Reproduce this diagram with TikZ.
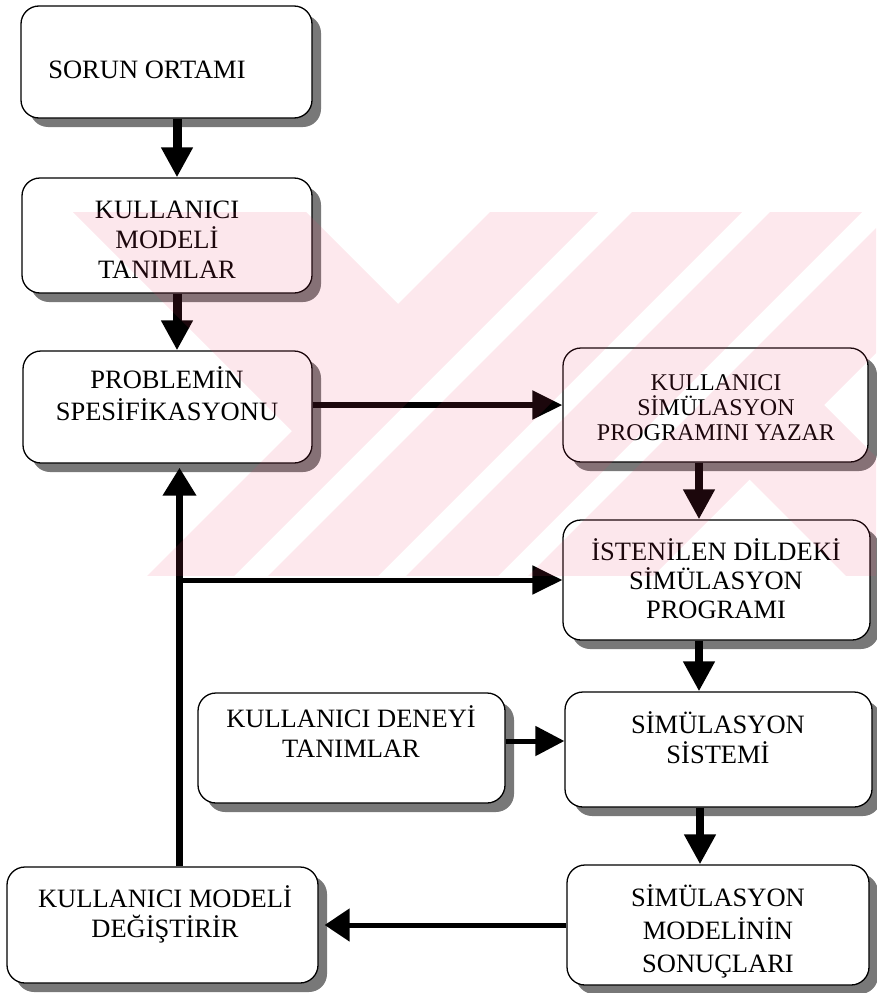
\documentclass[tikz,border=0pt]{standalone}
\usepackage{fontspec}
\setmainfont{Liberation Serif}
\usetikzlibrary{arrows.meta,shadows}
\definecolor{shadowgray}{RGB}{120,120,120}
\definecolor{wmark}{RGB}{238,63,105}
% invisible rule that fixes the height of the first text line
\newcommand{\firstline}{\rule{0pt}{24pt}}

\begin{document}
\begin{tikzpicture}[x=1pt,y=-1pt,
  box/.style={draw=black, line width=1.3pt, rounded corners=18pt, fill=white,
    inner sep=0pt,
    drop shadow={shadow xshift=9pt, shadow yshift=-9pt, fill=shadowgray, opacity=1}},
  boxtext/.style={inner sep=0pt, align=center, anchor=north},
  big/.style={font=\fontsize{26.5}{#1}\selectfont},
  small/.style={font=\fontsize{24}{25}\selectfont},
  flow/.style={draw=black, line width=#1},
  downtip/.style={-{Triangle[length=30pt,width=30pt]}},
  righttip/.style={-{Triangle[length=30pt,width=28pt]}},
]
\useasboundingbox (0,0) rectangle (876,993);

% ---- boxes ----
\node[box, minimum width=291pt, minimum height=112pt] (b1) at (166.5,62) {};
\node[box, minimum width=290pt, minimum height=115pt] (b2) at (167,235.5) {};
\node[box, minimum width=289pt, minimum height=112pt] (b3) at (167.5,407) {};
\node[box, minimum width=305pt, minimum height=114pt] (b4) at (715.5,405) {};
\node[box, minimum width=307pt, minimum height=120pt] (b5) at (716.5,580) {};
\node[box, minimum width=307pt, minimum height=115pt] (b6) at (718.5,749.5) {};
\node[box, minimum width=302pt, minimum height=120pt] (b7) at (718,925) {};
\node[box, minimum width=311pt, minimum height=116pt] (b8) at (162.5,925) {};
\node[box, minimum width=307pt, minimum height=110pt] (b9) at (351.5,748) {};

% ---- box texts ----
\node[boxtext, big=30] (t1) at (147,54) {\firstline SORUN ORTAMI};
\node[boxtext, big=30] (t2) at (167,194) {\firstline KULLANICI\\MODELİ\\TANIMLAR};
\node[boxtext, big=32] (t3) at (167,364) {\firstline PROBLEMİN\\SPESİFİKASYONU};
\node[boxtext, small] (t4) at (716,366) {\firstline KULLANICI\\SİMÜLASYON\\PROGRAMINI YAZAR};
\node[boxtext, big=29] (t5) at (716,536) {\firstline İSTENİLEN DİLDEKİ\\SİMÜLASYON\\PROGRAMI};
\node[boxtext, big=30] (t6) at (718,709) {\firstline SİMÜLASYON\\SİSTEMİ};
\node[boxtext, big=33] (t7) at (718,882) {\firstline SİMÜLASYON\\MODELİNİN\\SONUÇLARI};
\node[boxtext, big=30] (t8) at (165,883) {\firstline KULLANICI MODELİ\\DEĞİŞTİRİR};
\node[boxtext, big=30] (t9) at (351,703) {\firstline KULLANICI DENEYİ\\TANIMLAR};

% ---- connectors ----
\draw[flow=9pt, downtip] ([xshift=10.5pt]b1.south) -- ([xshift=10.5pt]b1.south |- b2.north);
\draw[flow=9pt, downtip] ([xshift=10pt]b2.south) -- ([xshift=10pt]b2.south |- b3.north);
\draw[flow=5.5pt, righttip] ([yshift=2pt]b3.east) -- ([yshift=2pt]b3.east -| b4.west);
\draw[flow=8pt, downtip] ([xshift=-16.5pt]b4.south) -- ([xshift=-16.5pt]b4.south |- b5.north);
\draw[flow=8pt, downtip] ([xshift=-17.5pt]b5.south) -- ([xshift=-17.5pt]b5.south |- b6.north);
\draw[flow=8pt, downtip] ([xshift=-18.5pt]b6.south) -- ([xshift=-18.5pt]b6.south |- b7.north);
\draw[flow=5pt, -{Triangle[length=29pt,width=29pt]}] ([yshift=7pt]b9.east) -- ([yshift=7pt]b9.east -| b6.west);
\coordinate (b8tip) at ([xshift=6pt]b8.east);
\draw[flow=5pt, -{Triangle[length=25pt,width=32pt]}] (b7.west) -- (b7.west -| b8tip);

% feedback loop back to the problem specification
\coordinate (fork) at ([xshift=17pt]b8.north |- b5.west);
\coordinate (fbtop) at ([yshift=-4pt]b3.south);
\draw[flow=7pt, -{Triangle[length=28pt,width=32pt]}] ([xshift=17pt]b8.north) -- (fbtop -| fork);
\draw[flow=5pt, righttip] (fork) -- (fork -| b5.west);

% ---- faint emblem in the background ----
\begin{scope}[opacity=0.12]
  \clip (73,212) rectangle (876,575);
  \fill[wmark]
    (-69.5,69.5) -- (281.5,420.5) -- (398,304) -- (47,-47) -- cycle
    (281.5,420.5) -- (292,431) -- (861.5,-138.5) -- (851,-149) -- cycle
    (-138.5,861.5) -- (-95,905) -- (905,-95) -- (861.5,-138.5) -- cycle
    (-78,922) -- (-23,977) -- (977,-23) -- (922,-78) -- cycle
    (-9,991) -- (37,1037) -- (1037,37) -- (991,-9) -- cycle
    (52,1052) -- (114.5,1114.5) -- (1114.5,114.5) -- (1052,52) -- cycle
    (749.5,479.5) -- (1635,1365) -- (1709.5,1290.5) -- (824,405) -- cycle;
\end{scope}
\end{tikzpicture}
\end{document}
